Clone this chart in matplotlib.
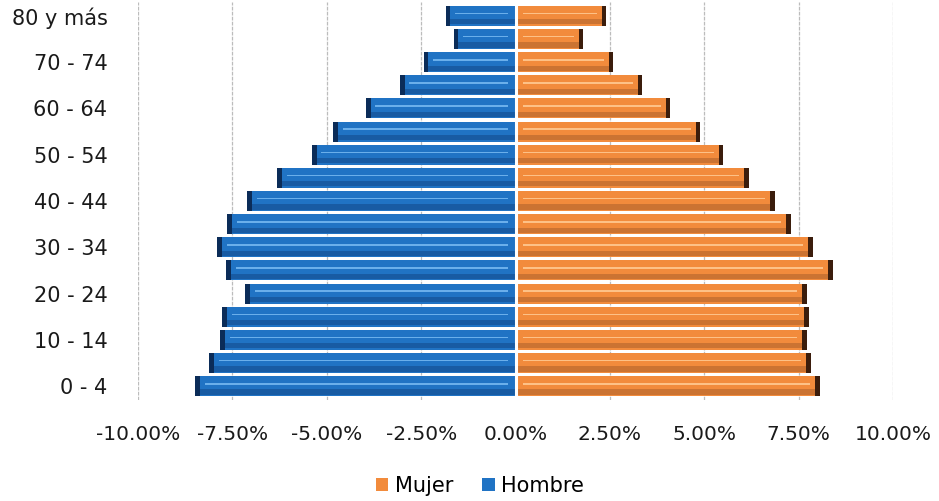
import matplotlib
matplotlib.use("Agg")
import numpy as np
from matplotlib import pyplot as plt
from matplotlib.ticker import FuncFormatter, MultipleLocator

# grupos de edad, de abajo hacia arriba
grupos = ["0 - 4", "5 - 9", "10 - 14", "15 - 19", "20 - 24", "25 - 29",
          "30 - 34", "35 - 39", "40 - 44", "45 - 49", "50 - 54", "55 - 59",
          "60 - 64", "65 - 69", "70 - 74", "75 - 79", "80 y más"]

# porcentaje de la población total
hombre = [8.48, 8.11, 7.82, 7.77, 7.16, 7.66, 7.90, 7.64, 7.11,
          6.31, 5.39, 4.83, 3.96, 3.06, 2.43, 1.64, 1.85]
mujer = [8.06, 7.82, 7.71, 7.77, 7.71, 8.40, 7.87, 7.29, 6.87,
         6.18, 5.50, 4.89, 4.10, 3.36, 2.59, 1.80, 2.40]

AZUL = ("#2073c4", "#155196", "#73b6f0", "#0b2c58")
NARANJA = ("#f28b3c", "#bb6a2e", "#ffc890", "#3b1d0c")


def barras(ax, y, valores, colores, h=0.86):
    base, sombra, brillo, tapa = colores
    signo = np.sign(valores)
    largo = np.abs(valores)
    ax.barh(y, valores, height=h, color=base, zorder=2)
    # parte baja más oscura
    ax.barh(y - h * 0.3, valores, height=h * 0.26, color=sombra, alpha=0.7, zorder=3)
    # franja de brillo
    ax.barh(y + h * 0.12, signo * (largo - 0.45), left=signo * 0.2,
            height=h * 0.08, color=brillo, alpha=0.9, zorder=4)
    # borde exterior oscuro
    ax.barh(y, signo * 0.12, left=valores - signo * 0.12, height=h,
            color=tapa, zorder=5)


def main():
    plt.rcParams["font.family"] = ["DejaVu Sans"]
    fig = plt.figure(figsize=(9.39, 5.01), dpi=100)
    ax = fig.add_axes([0.147, 0.2016, 0.804, 0.7944])

    y = np.arange(len(grupos))
    barras(ax, y, -np.array(hombre), AZUL)
    barras(ax, y, np.array(mujer), NARANJA)
    ax.axvline(0, color="white", lw=2.2, zorder=6)

    ax.set_xlim(-10, 10)
    ax.set_ylim(-0.6, len(grupos) - 0.4)
    ax.xaxis.set_major_locator(MultipleLocator(2.5))
    ax.xaxis.set_major_formatter(FuncFormatter(lambda v, p: f"{v:.2f}%"))
    ax.set_yticks(y[::2])
    ax.set_yticklabels(grupos[::2])
    ax.grid(axis="x", color="#bcbcbc", lw=0.9, ls=(0, (3, 1)), zorder=0)
    for s in ax.spines.values():
        s.set_visible(False)
    ax.tick_params(length=0, colors="#1a1a1a")
    ax.tick_params(axis="x", labelsize=14.5, pad=18)
    ax.tick_params(axis="y", labelsize=15, pad=22)

    h1 = ax.bar(0, 0, color=NARANJA[0], label="Mujer")
    h2 = ax.bar(0, 0, color=AZUL[0], label="Hombre")
    fig.legend(handles=[h1, h2], loc="center", bbox_to_anchor=(0.511, 0.03),
               ncol=2, frameon=False, fontsize=15, handlelength=0.6,
               handleheight=0.6, handletextpad=0.3, columnspacing=1.4)

    fig.savefig("out.png", dpi=100)


if __name__ == "__main__":
    main()
